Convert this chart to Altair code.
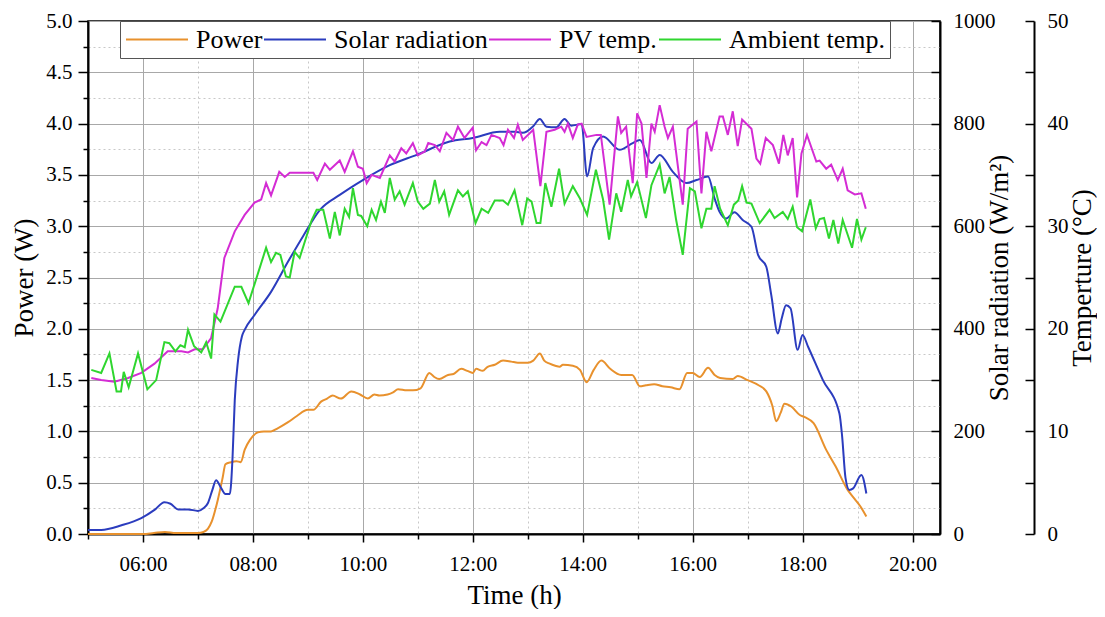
import altair as alt
import pandas as pd

# ---------------- data ----------------
power_t = [5.0, 5.5, 6.0, 6.2, 6.4, 6.6, 6.8, 7.0, 7.1, 7.18, 7.25, 7.36, 7.45, 7.5, 7.6, 7.7, 7.78, 7.85, 7.95, 8.09,
           8.2, 8.33, 8.45, 8.64, 8.8, 9.0, 9.1, 9.24, 9.35, 9.45, 9.6, 9.79, 9.95, 10.09, 10.21, 10.3, 10.45, 10.55, 10.64, 10.8,
           10.91, 11.05, 11.21, 11.3, 11.39, 11.55, 11.65, 11.79, 11.9, 12.0, 12.06, 12.18, 12.27, 12.4, 12.55, 12.7, 12.82, 13.0, 13.1, 13.22,
           13.3, 13.4, 13.5, 13.58, 13.64, 13.82, 13.95, 14.07, 14.2, 14.34, 14.5, 14.7, 14.9, 15.04, 15.15, 15.3, 15.45, 15.6, 15.76, 15.9,
           16.0, 16.13, 16.28, 16.4, 16.5, 16.73, 16.82, 17.0, 17.2, 17.34, 17.45, 17.52, 17.6, 17.67, 17.8, 17.95, 18.04, 18.2, 18.43, 18.6,
           18.82, 18.95, 19.05, 19.16]
power_w = [0.0, 0.0, 0.0, 0.01, 0.02, 0.01, 0.01, 0.01, 0.02, 0.05, 0.12, 0.33, 0.55, 0.68, 0.70, 0.71, 0.70, 0.82, 0.92, 0.99,
           1.0, 1.0, 1.03, 1.09, 1.15, 1.21, 1.21, 1.29, 1.32, 1.35, 1.32, 1.39, 1.36, 1.32, 1.36, 1.35, 1.36, 1.38, 1.41, 1.40,
           1.40, 1.42, 1.57, 1.53, 1.51, 1.55, 1.56, 1.61, 1.59, 1.57, 1.61, 1.59, 1.63, 1.65, 1.69, 1.68, 1.67, 1.67, 1.69, 1.76,
           1.69, 1.66, 1.64, 1.63, 1.65, 1.64, 1.60, 1.48, 1.60, 1.69, 1.61, 1.55, 1.55, 1.44, 1.45, 1.46, 1.44, 1.43, 1.41, 1.57,
           1.57, 1.53, 1.62, 1.55, 1.52, 1.51, 1.54, 1.50, 1.45, 1.39, 1.25, 1.10, 1.18, 1.27, 1.24, 1.16, 1.14, 1.08, 0.82, 0.66,
           0.43, 0.34, 0.27, 0.17]

solar_t = [5.0, 5.24, 5.61, 5.97, 6.21, 6.39, 6.5, 6.64, 6.82, 7.0, 7.1, 7.18, 7.26, 7.33, 7.42, 7.5, 7.58, 7.63, 7.67, 7.73,
           7.8, 7.85, 8.03, 8.33, 8.64, 8.91, 9.22, 9.58, 10.0, 10.49, 10.98, 11.58, 12.0, 12.49, 12.76, 12.91, 13.1, 13.22, 13.34, 13.52,
           13.67, 13.79, 13.98, 14.08, 14.19, 14.37, 14.67, 14.91, 15.04, 15.25, 15.4, 15.64, 15.89, 16.07, 16.28, 16.4, 16.49, 16.61, 16.76, 16.91,
           17.07, 17.19, 17.34, 17.43, 17.55, 17.62, 17.7, 17.78, 17.91, 18.0, 18.1, 18.37, 18.67, 18.72, 18.78, 18.85, 18.92, 19.07, 19.16]
solar_wm2 = [8, 8, 17, 31, 47, 62, 59, 48, 48, 45, 50, 60, 85, 105, 90, 78, 78, 150, 261, 339,
             385, 398, 427, 472, 531, 580, 632, 661, 690, 719, 739, 765, 772, 784, 784, 782, 795, 809, 794, 793,
             809, 796, 799, 697, 752, 775, 749, 762, 768, 723, 739, 706, 684, 690, 697, 654, 628, 615, 627, 612,
             599, 544, 521, 466, 391, 420, 446, 440, 359, 388, 365, 300, 235, 190, 110, 86, 89, 115, 79]

pv_t = [5.06, 5.24, 5.48, 5.73, 5.97, 6.21, 6.45, 6.7, 6.82, 6.94, 7.09, 7.24, 7.36, 7.48, 7.67, 7.85, 8.03, 8.15, 8.24, 8.33,
        8.48, 8.58, 8.67, 8.85, 8.98, 9.1, 9.17, 9.31, 9.4, 9.58, 9.67, 9.82, 9.91, 10.0, 10.07, 10.16, 10.31, 10.49, 10.58, 10.7,
        10.79, 10.91, 11.0, 11.13, 11.19, 11.31, 11.4, 11.52, 11.64, 11.73, 11.85, 12.0, 12.06, 12.16, 12.25, 12.34, 12.49, 12.56, 12.64, 12.75,
        12.82, 12.91, 13.1, 13.23, 13.34, 13.49, 13.61, 13.67, 13.73, 13.82, 13.91, 13.98, 14.07, 14.25, 14.33, 14.49, 14.64, 14.7, 14.79, 14.91,
        14.99, 15.07, 15.16, 15.25, 15.31, 15.4, 15.49, 15.55, 15.64, 15.82, 15.91, 16.07, 16.16, 16.25, 16.34, 16.49, 16.55, 16.64, 16.73, 16.82,
        16.9, 17.07, 17.16, 17.23, 17.33, 17.46, 17.57, 17.65, 17.73, 17.82, 17.9, 17.98, 18.08, 18.25, 18.31, 18.43, 18.52, 18.64, 18.73, 18.82,
        18.95, 19.07, 19.15]
pv_c = [15.2, 15.0, 14.85, 15.2, 15.7, 16.6, 17.8, 17.8, 17.7, 18.0, 18.0, 19.1, 22.0, 26.9, 29.5, 31.1, 32.3, 32.6, 34.2, 33.0,
        35.3, 34.8, 35.2, 35.2, 35.2, 35.2, 34.5, 36.1, 35.5, 36.4, 35.3, 37.3, 35.8, 35.6, 34.2, 35.0, 34.7, 36.9, 36.3, 37.6,
        37.1, 38.1, 36.9, 37.3, 38.1, 37.9, 37.3, 39.1, 38.4, 39.7, 38.6, 39.6, 37.4, 38.2, 37.9, 38.9, 38.6, 37.9, 39.4, 38.6,
        39.9, 38.4, 39.4, 33.9, 39.2, 39.4, 39.7, 39.2, 40.0, 38.6, 39.9, 40.0, 38.7, 38.9, 38.9, 32.1, 40.7, 39.1, 39.7, 34.2,
        41.0, 40.0, 34.7, 40.0, 39.2, 41.8, 39.7, 38.6, 39.7, 32.1, 39.5, 40.2, 33.2, 39.2, 37.3, 40.7, 40.7, 38.9, 41.2, 37.8,
        40.4, 39.5, 36.6, 36.1, 38.6, 37.9, 36.1, 38.9, 36.9, 38.6, 32.8, 37.1, 38.9, 36.3, 36.4, 35.6, 36.0, 34.5, 35.6, 33.5,
        33.1, 33.2, 31.7]

amb_t = [5.06, 5.24, 5.39, 5.52, 5.6, 5.65, 5.74, 5.91, 6.08, 6.24, 6.39, 6.48, 6.59, 6.68, 6.76, 6.82, 6.93, 7.06, 7.15, 7.24,
         7.3, 7.41, 7.67, 7.79, 7.92, 8.24, 8.33, 8.42, 8.5, 8.6, 8.67, 8.76, 8.85, 8.98, 9.07, 9.16, 9.28, 9.4, 9.49, 9.58,
         9.67, 9.75, 9.82, 9.91, 9.97, 10.08, 10.16, 10.24, 10.33, 10.4, 10.49, 10.58, 10.67, 10.76, 10.91, 11.0, 11.1, 11.22, 11.31, 11.39,
         11.48, 11.57, 11.73, 11.82, 11.91, 12.05, 12.16, 12.28, 12.4, 12.55, 12.64, 12.76, 12.9, 12.99, 13.07, 13.16, 13.23, 13.32, 13.43, 13.57,
         13.67, 13.82, 13.95, 14.08, 14.24, 14.37, 14.48, 14.61, 14.7, 14.82, 14.88, 14.99, 15.15, 15.25, 15.4, 15.49, 15.58, 15.7, 15.82, 15.95,
         16.04, 16.16, 16.25, 16.34, 16.4, 16.5, 16.64, 16.75, 16.83, 16.9, 16.98, 17.07, 17.22, 17.4, 17.49, 17.64, 17.73, 17.82, 17.9, 17.99,
         18.14, 18.24, 18.31, 18.39, 18.48, 18.56, 18.65, 18.73, 18.9, 18.99, 19.07, 19.15]
amb_c = [16.0, 15.7, 17.6, 13.9, 13.9, 15.8, 14.3, 17.6, 14.1, 15.0, 18.7, 18.6, 17.8, 18.4, 18.2, 19.9, 18.3, 17.7, 18.7, 17.1,
         21.4, 20.7, 24.1, 24.1, 22.5, 27.9, 26.5, 27.4, 27.2, 25.1, 25.0, 27.5, 26.9, 29.1, 30.6, 31.6, 31.6, 28.8, 31.4, 29.1,
         31.7, 30.9, 33.7, 31.1, 31.0, 30.0, 31.6, 30.6, 32.4, 31.3, 34.7, 32.6, 33.4, 32.1, 34.2, 32.4, 31.7, 32.2, 34.5, 32.4,
         33.4, 31.1, 33.5, 32.9, 33.4, 30.3, 31.7, 31.3, 32.5, 32.5, 32.1, 33.5, 30.1, 32.7, 32.4, 30.3, 30.3, 34.2, 31.9, 35.6,
         32.2, 33.9, 32.7, 31.1, 35.5, 32.6, 28.7, 33.2, 31.4, 34.5, 32.9, 34.3, 30.8, 34.0, 36.0, 33.2, 34.8, 30.6, 27.2, 33.7,
         33.4, 29.8, 31.7, 31.7, 33.9, 31.7, 30.1, 32.1, 32.5, 33.9, 32.3, 32.2, 30.3, 31.6, 30.8, 31.4, 30.7, 31.9, 29.9, 29.5,
         32.6, 29.8, 30.7, 30.8, 28.8, 30.6, 28.3, 30.6, 27.9, 30.7, 28.7, 29.9]

SERIES = ["Power", "Solar radiation", "PV temp.", "Ambient temp."]
COLORS = ["#E8912D", "#2B3CBE", "#D42CD4", "#2FD62F"]

x_major = [6, 8, 10, 12, 14, 16, 18, 20]
x_minor = [5, 7, 9, 11, 13, 15, 17, 19]
p_major = [0.0, 0.5, 1.0, 1.5, 2.0, 2.5, 3.0, 3.5, 4.0, 4.5, 5.0]
p_minor = [0.25, 0.75, 1.25, 1.75, 2.25, 2.75, 3.25, 3.75, 4.25, 4.75]
solar_ticks = [0, 100, 200, 300, 400, 500, 600, 700, 800, 900, 1000]
temp_ticks = [0, 5, 10, 15, 20, 25, 30, 35, 40, 45, 50]

# ---------------- frames ----------------
df_power = pd.DataFrame({"t": power_t, "v": power_w, "series": "Power"})
df_solar = pd.DataFrame({"t": solar_t, "v": solar_wm2, "series": "Solar radiation"})
df_temp = pd.concat([
    pd.DataFrame({"t": pv_t, "v": pv_c, "series": "PV temp."}),
    pd.DataFrame({"t": amb_t, "v": amb_c, "series": "Ambient temp."}),
])

FONT = "Liberation Serif"
W, H = 852, 513

xs = alt.Scale(domain=[5, 20.5], nice=False, zero=False)

color = alt.Color(
    "series:N",
    scale=alt.Scale(domain=SERIES, range=COLORS),
    legend=alt.Legend(
        orient="none", legendX=32, legendY=0, direction="horizontal", columns=4,
        symbolType="stroke", symbolSize=3844, symbolStrokeWidth=2, clipHeight=27,
        labelFont=FONT, labelFontSize=26, labelColor="black", labelOffset=7, labelLimit=0,
        columnPadding=0, fillColor="white", strokeColor="#555555", padding=5, title=None,
    ),
)

power_layer = alt.Chart(df_power).mark_line(strokeWidth=2, interpolate="monotone").encode(
    x=alt.X("t:Q", scale=xs, axis=alt.Axis(
        orient="bottom", values=x_major,
        labelExpr="(datum.value < 10 ? '0' : '') + datum.value + ':00'",
        title="Time (h)", grid=True, tickSize=8, labelPadding=11,
        titleX=W / 2, titleY=69, titleAlign="center", titleBaseline="alphabetic")),
    y=alt.Y("v:Q", scale=alt.Scale(domain=[0, 5], nice=False, zero=False), axis=alt.Axis(
        orient="left", values=p_major, format=".1f", title="Power (W)", grid=True,
        tickSize=10, labelPadding=6, titleAngle=270, titleX=-64, titleY=H / 2,
        titleAlign="center", titleBaseline="middle")),
    color=color,
)

minor_layer = alt.Chart(df_power).mark_line(strokeOpacity=0).encode(
    x=alt.X("t:Q", scale=xs, axis=alt.Axis(
        orient="bottom", values=x_minor, labels=False, domain=False, grid=True, gridDash=[2, 3],
        gridColor="#c8c8c8", tickSize=5, title=None)),
    y=alt.Y("v:Q", scale=alt.Scale(domain=[0, 5], nice=False, zero=False), axis=alt.Axis(
        orient="left", values=p_minor, labels=False, domain=False, grid=True, gridDash=[2, 3],
        gridColor="#c8c8c8", tickSize=5, title=None)),
)

solar_layer = alt.Chart(df_solar).mark_line(strokeWidth=2, interpolate="monotone").encode(
    x=alt.X("t:Q", scale=xs, axis=None),
    y=alt.Y("v:Q", scale=alt.Scale(domain=[0, 1000], nice=False, zero=False), axis=alt.Axis(
        orient="right", values=solar_ticks, labelExpr="datum.value % 200 == 0 ? datum.value : ''",
        grid=False, tickSize={"expr": "-9"}, labelPadding=22, title="Solar radiation (W/m²)",
        titleAngle=270, titleX=59, titleY=H / 2, titleAlign="center", titleBaseline="middle")),
    color=color,
)

temp_layer = alt.Chart(df_temp).mark_line(strokeWidth=2).encode(
    x=alt.X("t:Q", scale=xs, axis=None),
    y=alt.Y("v:Q", scale=alt.Scale(domain=[0, 50], nice=False, zero=False), axis=alt.Axis(
        orient="right", offset=94, values=temp_ticks, labelExpr="datum.value % 10 == 0 ? datum.value : ''",
        grid=False, tickSize={"expr": "-9"}, labelPadding=22, title="Temperture (°C)",
        titleAngle=270, titleX=48, titleY=H / 2, titleAlign="center", titleBaseline="middle")),
    color=color,
    detail="series:N",
)

chart = alt.layer(minor_layer, power_layer, solar_layer, temp_layer).resolve_scale(
    x="independent", y="independent"
).properties(
    width=W, height=H,
    padding={"left": 80, "top": 13, "right": 157, "bottom": 75},
    autosize=alt.AutoSizeParams(type="none"),
    background="white",
).configure_axis(
    labelFont=FONT, labelFontSize=21, labelColor="black",
    titleFont=FONT, titleFontSize=27, titleFontWeight="normal", titleColor="black",
    tickColor="black", tickWidth=1.5, domainColor="black", domainWidth=2,
    labelFlush=False, labelOverlap=False, gridColor="#a8a8a8", gridWidth=1,
).configure_view(stroke="black", strokeWidth=1.5)

chart.save("out.html", embed_options={"renderer": "svg", "actions": False})
